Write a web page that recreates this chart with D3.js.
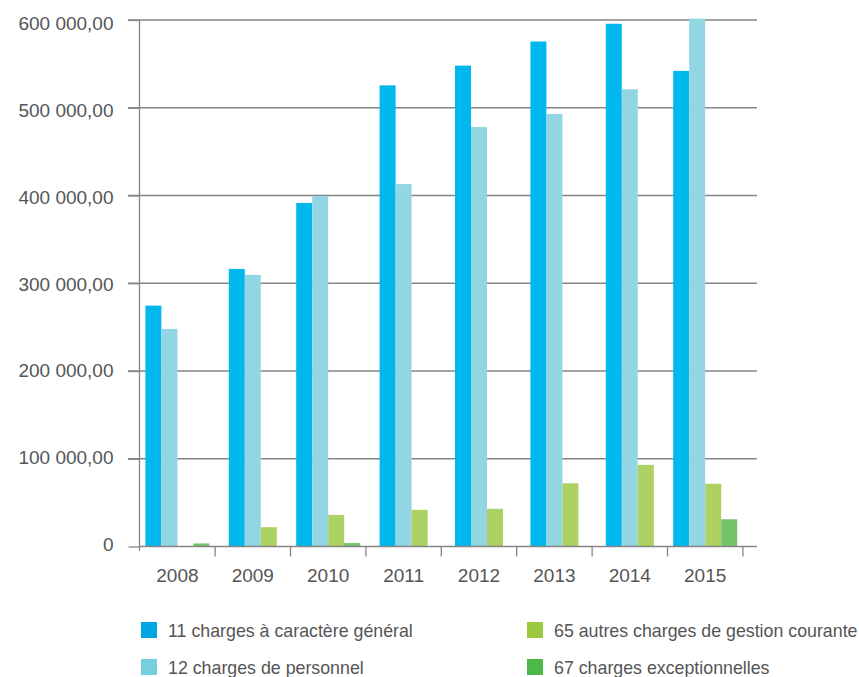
<!DOCTYPE html>
<html><head><meta charset="utf-8">
<script src="https://cdn.jsdelivr.net/npm/d3@7"></script>
<style>
body{margin:0;background:#fff;}
svg{display:block;font-family:"Liberation Sans",Arial,sans-serif;}
</style></head>
<body><svg id="c" width="859" height="677"></svg>
<script>
const years = ["2008","2009","2010","2011","2012","2013","2014","2015"];
const seriesNames = ["11 charges à caractère général","12 charges de personnel","65 autres charges de gestion courante","67 charges exceptionnelles"];
// null = series absent for that year (its slot is dropped, group re-centred)
const s11 = [274500,316300,391500,525500,548000,575500,595700,542000];
const s12 = [248000,309500,399400,413000,478000,493000,521000,601500];
const s65 = [0,22000,36000,41800,43000,72000,93000,71500];
const s67 = [3500,null,3900,null,null,null,null,31000];
const yTicks = [0,100000,200000,300000,400000,500000,600000];
const yTickLabels = ["0","100 000,00","200 000,00","300 000,00","400 000,00","500 000,00","600 000,00"];

const barColors = ["#00b8ee","#93d6e3","#aed163","#74c36a"];
const legendColors = ["#00a6e4","#76cfdf","#9ac93e","#4db74a"];
const allSeries = [s11,s12,s65,s67];

const svg = d3.select("#c");
const x0 = d3.scaleBand().domain(years).range([139.7,742.9]).paddingInner(0).paddingOuter(0);
const barStep = 16;
const y = d3.scaleLinear().domain([0,600000]).range([546.5,20]);
// tick labels in the original sit on a slightly tighter spacing than the gridlines
const yLab = d3.scaleLinear().domain([0,600000]).range([543.5,23]);

// gridlines
svg.append("g").selectAll("line").data(yTicks.slice(1)).join("line")
  .attr("x1",128).attr("x2",757).attr("y1",d=>y(d)).attr("y2",d=>y(d))
  .attr("stroke","#858585").attr("stroke-width",1.3);

// bars
const groups = svg.append("g").selectAll("g").data(years).join("g")
  .attr("transform",d=>`translate(${x0(d)},0)`);
groups.each(function(d,i){
  const present = allSeries.map((s,k)=>({k,v:s[i]})).filter(e=>e.v!==null);
  const c = x0.bandwidth()/2, half = present.length*barStep/2;
  const x1 = d3.scaleBand().domain(present.map(e=>e.k)).range([c-half,c+half]);
  d3.select(this).selectAll("rect").data(present.filter(e=>e.v>0)).join("rect")
    .attr("x",e=>x1(e.k)).attr("width",x1.bandwidth())
    .attr("y",e=>y(e.v)).attr("height",e=>y(0)-y(e.v))
    .attr("fill",e=>barColors[e.k]);
});

// y axis
const yAxis = d3.axisLeft(y).tickValues(yTicks).tickSize(11).tickFormat((d,i)=>yTickLabels[i]);
const gy = svg.append("g").attr("transform","translate(139.5,0)").call(yAxis);
gy.select(".domain").attr("stroke","#858585").attr("stroke-width",1.3).attr("d","M0,20V551");
gy.selectAll(".tick line").attr("stroke","#858585").attr("stroke-width",1.3);
gy.selectAll(".tick text")
  .attr("x",-26)
  .attr("y",d=>yLab(d)-y(d))
  .attr("dy","0.36em").attr("fill","#555")
  .style("font-size","19px");

// x axis
const gx = svg.append("g").attr("transform","translate(0,546.5)");
gx.append("line").attr("x1",139.5).attr("x2",757).attr("stroke","#858585").attr("stroke-width",1.3);
const bounds = years.map(d=>x0(d)+x0.bandwidth());
gx.selectAll("line.t").data(bounds).join("line").attr("class","t")
  .attr("x1",d=>d).attr("x2",d=>d).attr("y1",0).attr("y2",10)
  .attr("stroke","#858585").attr("stroke-width",1.3);
gx.selectAll("text").data(years).join("text")
  .attr("x",d=>x0(d)+x0.bandwidth()/2).attr("y",35.5)
  .attr("text-anchor","middle").attr("fill","#555").style("font-size","19px").text(d=>d);

// legend
const legPos = [[141,622],[141,659],[527,622],[527,659]];
const leg = svg.append("g").selectAll("g").data(seriesNames).join("g")
  .attr("transform",(d,i)=>`translate(${legPos[i][0]},${legPos[i][1]})`);
leg.append("rect").attr("width",16).attr("height",16).attr("fill",(d,i)=>legendColors[i]);
leg.append("text").attr("x",27).attr("y",15).attr("fill","#555").style("font-size","17.8px").text(d=>d);
</script></body></html>
